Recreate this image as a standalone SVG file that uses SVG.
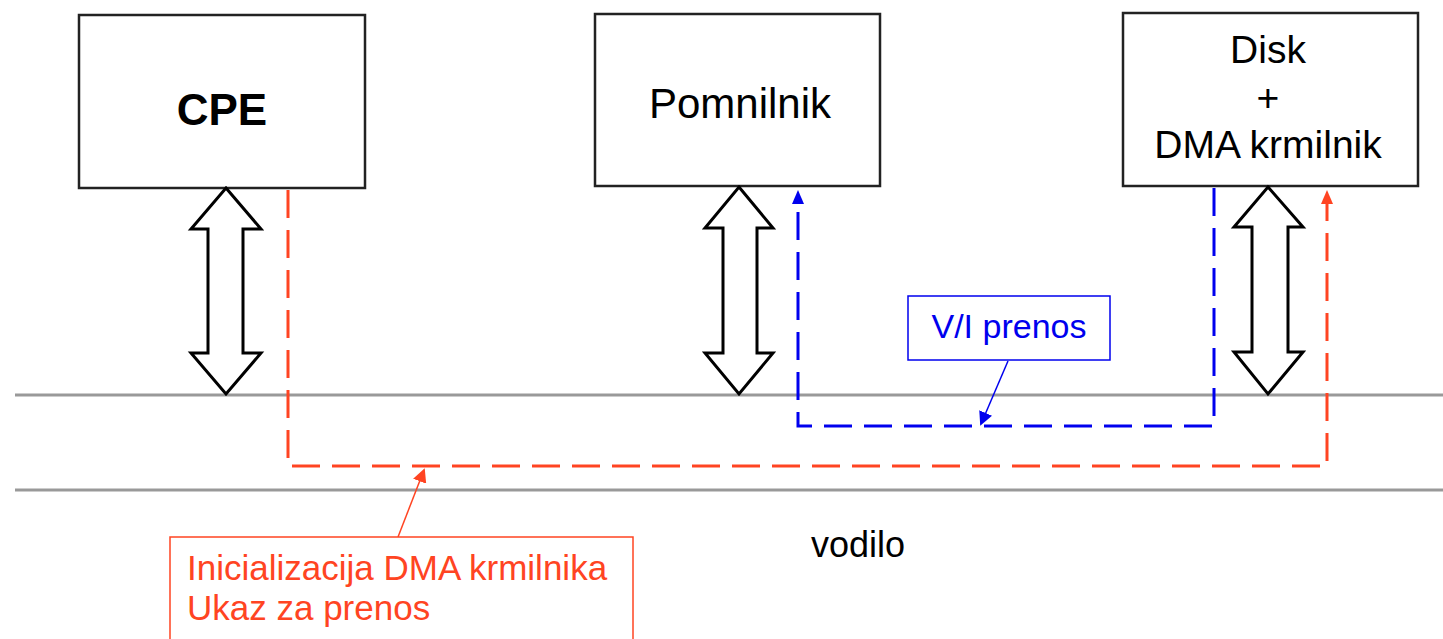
<svg xmlns="http://www.w3.org/2000/svg" width="1443" height="639" viewBox="0 0 1443 639">
<style>
.box{fill:#fff;stroke:#222;stroke-width:2.5}
.bus{stroke:#999;stroke-width:3}
.dbl{fill:#fff;stroke:#000;stroke-width:3;stroke-linejoin:miter}
.t{font-family:"Liberation Sans",Arial,sans-serif;fill:#000;text-anchor:middle}
.red{fill:none;stroke:#FF4422;stroke-width:3;stroke-dasharray:28 12}
.blue{fill:none;stroke:#0000EE;stroke-width:3;stroke-dasharray:28 12}
</style>
<defs>
<marker id="ar" markerWidth="8" markerHeight="8" refX="4" refY="4" orient="auto" markerUnits="userSpaceOnUse" viewBox="0 0 8 8"><path d="M0,0 L8,4 L0,8 z" fill="#FF4422"/></marker>
<marker id="ab" markerWidth="8" markerHeight="8" refX="4" refY="4" orient="auto" markerUnits="userSpaceOnUse" viewBox="0 0 8 8"><path d="M0,0 L8,4 L0,8 z" fill="#0000EE"/></marker>
<marker id="ar2" markerWidth="14" markerHeight="14" refX="12" refY="7" orient="auto" markerUnits="userSpaceOnUse" viewBox="0 0 14 14"><path d="M0,0 L14,7 L0,14 z" fill="#FF4422"/></marker>
<marker id="ab2" markerWidth="14" markerHeight="14" refX="12" refY="7" orient="auto" markerUnits="userSpaceOnUse" viewBox="0 0 14 14"><path d="M0,0 L14,7 L0,14 z" fill="#0000EE"/></marker>
</defs>
<rect width="1443" height="639" fill="#fff"/>
<g id="bus">
<line class="bus" x1="15" y1="395" x2="1443" y2="395"/>
<line class="bus" x1="15" y1="490" x2="1443" y2="490"/>
<text class="t" x="858" y="557" font-size="36">vodilo</text>
</g>
<g id="cpe">
<rect class="box" x="79" y="15" width="286" height="173"/>
<text class="t" x="222" y="125" font-size="44" font-weight="bold">CPE</text>
</g>
<g id="pomnilnik">
<rect class="box" x="595" y="14" width="285" height="172"/>
<text class="t" x="740" y="118" font-size="42">Pomnilnik</text>
</g>
<g id="disk">
<rect class="box" x="1123" y="13" width="295" height="173"/>
<text class="t" x="1268" y="63" font-size="39">Disk</text>
<text class="t" x="1268" y="111" font-size="39">+</text>
<text class="t" x="1268" y="158" font-size="39">DMA krmilnik</text>
</g>
<g id="connectors">
<path class="dbl" d="M226,188 L261,229 L243,229 L243,353 L261,353 L226,394 L191,353 L208,353 L208,229 L191,229 Z"/>
<path class="dbl" d="M739,187 L773,228 L757,228 L757,353 L773,353 L739,394 L705,353 L723,353 L723,228 L705,228 Z"/>
<path class="dbl" d="M1268,187 L1303,227 L1288,227 L1288,352 L1303,352 L1268,394 L1234,352 L1252,352 L1252,227 L1234,227 Z"/>
<path class="red" d="M288,190 L288,466 L1327,466 L1327,200"/>
<path d="M1327,190 L1333,204 L1321,204 Z" fill="#FF4422"/>
<path class="blue" d="M1214,188 L1214,426 L798,426 L798,200"/>
<path d="M798,190 L804,204 L792,204 Z" fill="#0000EE"/>
<line x1="1008" y1="361" x2="981" y2="424" stroke="#0000EE" stroke-width="1.5" marker-end="url(#ab2)"/>
<line x1="398" y1="537" x2="424" y2="470" stroke="#FF4422" stroke-width="1.5" marker-end="url(#ar2)"/>
</g>
<g id="label-vi">
<rect x="908" y="296" width="202" height="64" fill="#fff" stroke="#0000EE" stroke-width="1.5"/>
<text class="t" x="1009" y="338" font-size="34" fill="#0000EE" style="fill:#0000EE">V/I prenos</text>
</g>
<g id="label-init">
<rect x="170" y="537" width="463" height="110" fill="#fff" stroke="#FF4422" stroke-width="1.5"/>
<text x="187" y="580" font-size="35" font-family="Liberation Sans,Arial,sans-serif" fill="#FF4422">Inicializacija DMA krmilnika</text>
<text x="187" y="620" font-size="35" font-family="Liberation Sans,Arial,sans-serif" fill="#FF4422">Ukaz za prenos</text>
</g>
</svg>
